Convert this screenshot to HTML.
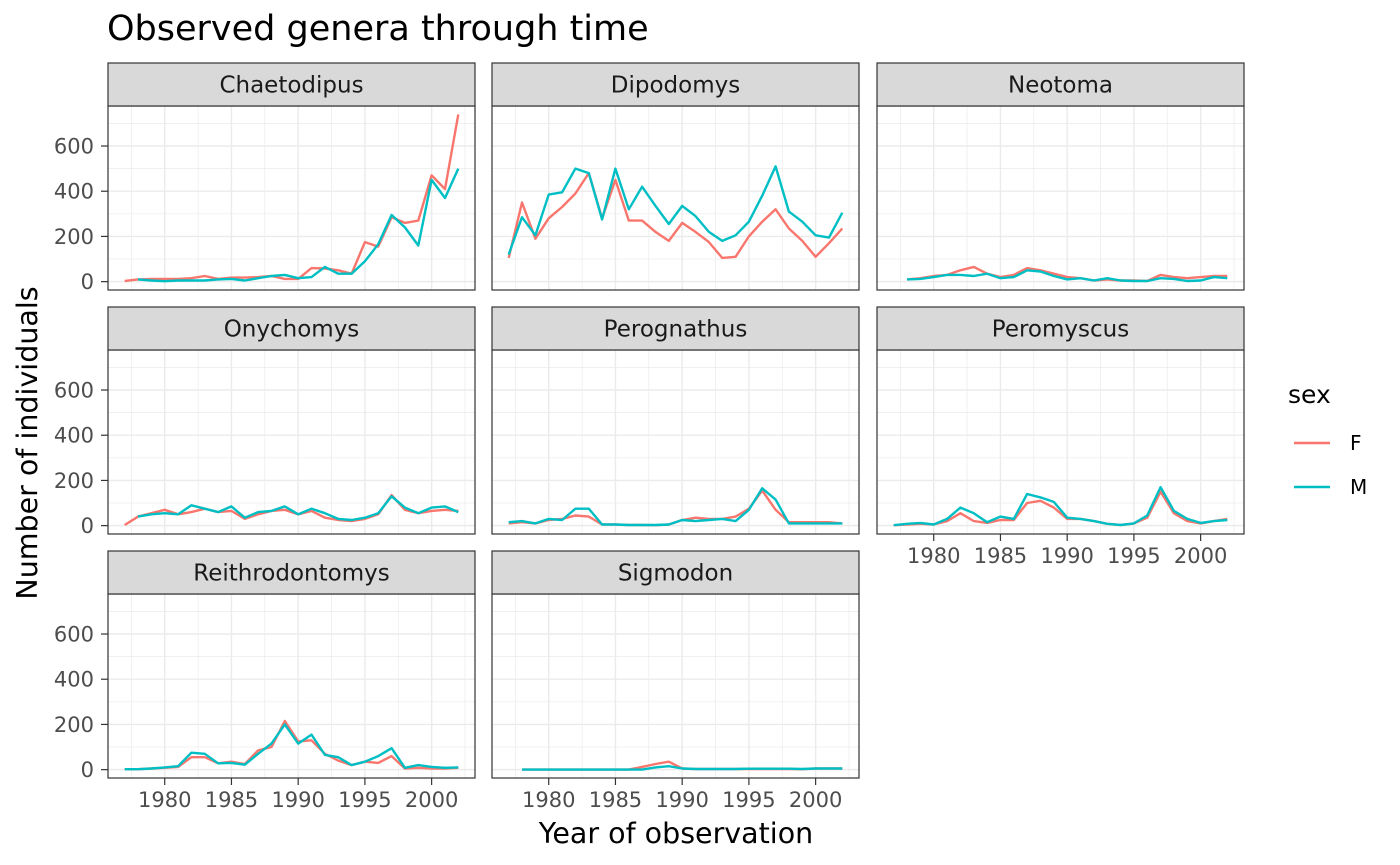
<!DOCTYPE html>
<html><head><meta charset="utf-8"><style>
body{margin:0;background:#fff}
svg{display:block;font-family:"DejaVu Sans","Liberation Sans",sans-serif}
</style></head><body>
<svg id="chart" width="1400" height="865" viewBox="0 0 1400 865" xmlns="http://www.w3.org/2000/svg">
<text x="107" y="40" font-size="35" fill="#000">Observed genera through time</text>
<text transform="translate(37,443) rotate(-90)" text-anchor="middle" font-size="28.5" fill="#000">Number of individuals</text>
<text x="676" y="843" text-anchor="middle" font-size="28.5" fill="#000">Year of observation</text>
<g>
<text x="1288" y="403" font-size="25" fill="#000">sex</text>
<line x1="1294" y1="443" x2="1330" y2="443" stroke="#F8766D" stroke-width="2.4"/>
<text x="1350" y="450" font-size="20" fill="#000">F</text>
<line x1="1294" y1="487" x2="1330" y2="487" stroke="#00BFC4" stroke-width="2.4"/>
<text x="1350" y="494" font-size="20" fill="#000">M</text>
</g>
</svg>
<script>
const genera = ["Chaetodipus","Dipodomys","Neotoma","Onychomys","Perognathus","Peromyscus","Reithrodontomys","Sigmodon"];
const yTicks = [0,200,400,600];
const xTicks = [1980,1985,1990,1995,2000];
const chaetF = [3,10,12,12,12,15,25,12,18,18,20,25,12,12,60,58,50,35,175,155,285,260,270,470,410,740];
const chaetM = [null,10,5,2,5,5,5,10,12,5,15,25,30,15,20,65,35,35,90,165,295,240,160,450,370,500];
const dipoF = [105,350,190,280,330,390,480,280,450,270,270,220,180,260,220,175,105,110,200,265,320,235,180,110,170,235];
const dipoM = [120,285,205,385,395,500,480,275,500,320,420,335,255,335,290,220,180,205,265,380,510,310,265,205,195,305];
const neoF = [null,10,15,25,30,50,65,35,20,30,60,50,35,20,15,5,10,5,5,3,30,20,15,20,25,25];
const neoM = [null,10,12,20,30,30,25,35,15,20,50,45,25,10,15,5,15,5,3,3,15,12,3,5,20,15];
const onyF = [3,40,55,70,50,60,75,60,65,30,50,65,70,50,65,35,25,20,30,50,135,70,55,65,70,65];
const onyM = [null,40,50,55,50,90,75,60,85,35,60,65,85,50,75,55,30,25,35,55,130,80,55,80,85,60];
const perogF = [10,15,10,25,30,45,40,5,5,3,3,2,5,25,35,30,30,40,75,155,70,15,15,15,15,10];
const perogM = [15,20,10,30,25,75,75,5,5,3,3,3,5,25,20,25,30,20,70,165,115,10,10,10,10,10];
const peroF = [2,5,8,5,20,55,20,12,25,25,100,110,80,30,30,20,8,3,10,35,150,55,20,10,20,30];
const peroM = [2,8,12,5,30,80,55,15,40,30,140,125,105,35,30,20,8,3,10,45,170,65,30,12,20,25];
const reithF = [2,2,5,8,12,55,55,28,35,25,85,100,215,125,130,70,40,20,35,30,60,5,8,5,5,8];
const reithM = [2,2,5,10,15,75,70,28,30,22,70,115,200,115,155,65,55,20,35,60,95,8,20,12,8,10];
const sigF = [null,0,0,0,0,0,0,0,0,0,12,25,35,5,3,3,3,3,3,3,3,3,2,5,5,5];
const sigM = [null,0,0,0,0,0,0,0,0,0,0,10,15,5,3,3,3,3,4,4,4,4,3,5,5,5];
const seriesF = [chaetF,dipoF,neoF,onyF,perogF,peroF,reithF,sigF];
const seriesM = [chaetM,dipoM,neoM,onyM,perogM,peroM,reithM,sigM];
const startYear = 1977;

const NS="http://www.w3.org/2000/svg";
const svg=document.getElementById('chart');
const colX=[108,492,877], rowY=[63,307,551], PW=367, SH=43, PH=184;
const xMin=1975.75, xMax=2003.25, yMin=-37, yMax=777;
function mk(t,a,p){const e=document.createElementNS(NS,t);for(const k in a)e.setAttribute(k,a[k]);(p||svg).appendChild(e);return e;}
genera.forEach((g,i)=>{
  const c=i%3, r=Math.floor(i/3);
  const px=colX[c], st=rowY[r], py=st+SH;
  const xs=v=>px+(v-xMin)/(xMax-xMin)*PW;
  const ys=v=>py+PH-(v-yMin)/(yMax-yMin)*PH;
  const grp=mk('g',{});
  
  
  mk('rect',{x:px,y:py,width:PW,height:PH,fill:'#fff'},grp);
  for(let y=100;y<=700;y+=200){mk('line',{x1:px,x2:px+PW,y1:ys(y),y2:ys(y),stroke:'#ebebeb','stroke-width':0.7},grp);}
  for(let x=1977.5;x<2003;x+=5){mk('line',{y1:py,y2:py+PH,x1:xs(x),x2:xs(x),stroke:'#ebebeb','stroke-width':0.7},grp);}
  yTicks.forEach(y=>mk('line',{x1:px,x2:px+PW,y1:ys(y),y2:ys(y),stroke:'#ebebeb','stroke-width':1.4},grp));
  xTicks.forEach(x=>mk('line',{y1:py,y2:py+PH,x1:xs(x),x2:xs(x),stroke:'#ebebeb','stroke-width':1.4},grp));
  [[seriesF[i],'#F8766D','f'],[seriesM[i],'#00BFC4','m']].forEach(([arr,col,s])=>{
    let d='';arr.forEach((v,k)=>{if(v==null)return;d+=(d?'L':'M')+xs(startYear+k).toFixed(1)+','+ys(v).toFixed(1);});
    const p=mk('path',{d:d,fill:'none',stroke:col,'stroke-width':2.4,'stroke-linejoin':'round'},grp);
    
    
  });
  mk('rect',{x:px,y:py,width:PW,height:PH,fill:'none',stroke:'#333','stroke-width':1.2},grp);
  const sr=mk('rect',{x:px,y:st,width:PW,height:SH,fill:'#d9d9d9',stroke:'#333','stroke-width':1.2},grp);
  
  
  const stx=mk('text',{x:px+PW/2,y:st+SH/2+8,'text-anchor':'middle','font-size':23,fill:'#1a1a1a'},grp);
  stx.textContent=g;
  
  
  if(c===0){yTicks.forEach(y=>{
    mk('line',{x1:px-7,x2:px,y1:ys(y),y2:ys(y),stroke:'#333','stroke-width':1.2},grp);
    const t=mk('text',{x:px-14,y:ys(y)+7.5,'text-anchor':'end','font-size':21,fill:'#4d4d4d'},grp);
    t.textContent=y;
    
    
  });}
  if(r===2||i===5){xTicks.forEach(x=>{
    mk('line',{y1:py+PH,y2:py+PH+7,x1:xs(x),x2:xs(x),stroke:'#333','stroke-width':1.2},grp);
    const t=mk('text',{x:xs(x),y:py+PH+29,'text-anchor':'middle','font-size':21,fill:'#4d4d4d'},grp);
    t.textContent=x;
    
    
  });}
});
</script>
</body></html>
